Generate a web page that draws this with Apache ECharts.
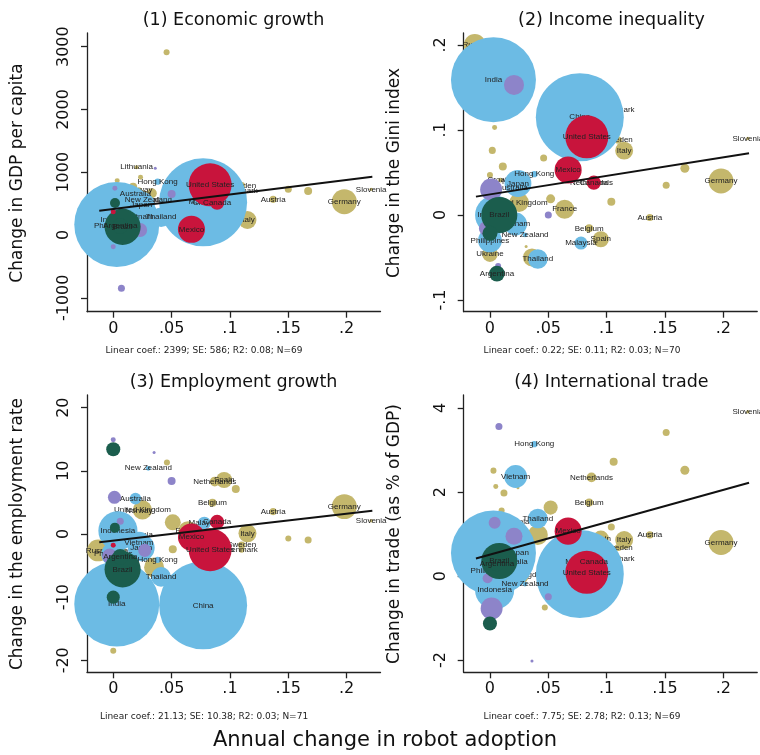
<!DOCTYPE html>
<html><head><meta charset="utf-8">
<script src="https://cdn.jsdelivr.net/npm/echarts@6/dist/echarts.min.js"></script>
<style>html,body{margin:0;padding:0;background:#fff}#c{width:760px;height:755px}</style>
</head><body><div id="c"></div>
<script>
// ---------- DATA ----------
const countries = ['Russia','India','Lithuania','China','Denmark','United States','Sweden','Finland','Italy','Mexico','Hong Kong','Netherlands','Canada','Croatia','Norway','Australia','Japan','Germany','Slovenia','Austria','Spain','Belgium','France','Malaysia','Thailand','Vietnam','Indonesia','Philippines','Ukraine','Argentina','Brazil','United Kingdom','New Zealand'];
// E = Europe, A = Asia-Pacific, N = North America, S = South America, P = other
const regions = ['E','A','E','A','E','N','E','E','E','N','A','E','N','E','E','A','A','E','E','E','E','E','E','A','A','A','A','A','E','S','S','E','A'];
const robotAdoption = [-0.013,0.003,0.020,0.077,0.110,0.083,0.110,0.073,0.115,0.067,0.038,0.087,0.089,0.009,0.022,0.019,0.024,0.198,0.221,0.137,0.095,0.085,0.064,0.078,0.041,0.022,0.004,0.000,0.000,0.006,0.008,0.025,0.030];
const bubbleWeight = [85,1275,3,1367,6,326,9,5.5,57,129,7,17,36,4,5,24,127,110,2,9,46,11,65,30,68,92,270,100,43,43,230,65,4];

const gdpChange = [380,167,1080,520,700,800,786,674,239,90,849,717,515,690,717,650,480,531,727,568,398,540,398,531,282,292,239,143,-53,143,130,558,558];
const giniChange = [0.200,0.159,0.170,0.115,0.124,0.092,0.088,0.0757,0.0757,0.053,0.048,0.038,0.038,0.041,0.039,0.0325,0.037,0.040,0.090,-0.003,-0.0286,-0.0157,0.0067,-0.033,-0.0518,-0.0106,0.0,-0.030,-0.046,-0.069,0.0,0.0149,-0.0235];
const employmentChange = [-2.6,-11.1,-0.2,-11.3,-2.5,-2.5,-1.74,-0.4,0.1,-0.5,-4.1,8.3,1.9,-2.6,3.7,5.6,-2.2,4.33,2.1,3.54,8.55,4.96,0.5,1.7,-6.8,-1.47,0.5,-3.2,-7.2,-3.6,-5.6,3.8,10.4];
const tradeChange = [0.56,0.55,1.29,0.05,0.42,0.09,0.68,0.5,0.857,1.07,3.14,2.35,0.34,-0.14,0.1,0.34,0.56,0.80,3.91,0.98,0.89,1.75,0.34,0.34,1.37,2.37,-0.33,0.13,1.12,0.30,0.36,0.02,-0.19];

// unlabeled countries per panel: [robot adoption, outcome, weight, region]
const otherGdp = [[0.0457,2910,6.4,'E'],[0.0234,919,4.4,'E'],[0.0034,866,4.4,'E'],[0.150,727,8.7,'E'],[0.167,700,11.3,'E'],[0.017,770,11.3,'E'],[0.033,664,17.7,'E'],
  [0.036,1062,1.6,'P'],[0.0014,743,4.4,'P'],[0.050,653,11.3,'P'],[0.023,80,35,'P'],[0,-186,4.4,'P'],[0.007,-850,8.7,'P'],
  [0,371,4.4,'N'],[0.0015,510,17.7,'S']];
const otherGini = [[0.004,0.103,4.4,'E'],[0.002,0.076,8.7,'E'],[0.011,0.057,11.3,'E'],[0.046,0.067,8.7,'E'],[0,0.047,6.4,'E'],[0.104,0.0157,11.3,'E'],[0.151,0.035,8.7,'E'],[0.167,0.055,14.3,'E'],[0.052,0.019,14.3,'E'],[0.031,-0.037,1.6,'E'],[0.036,-0.05,57,'E'],
  [0.0206,0.153,71,'P'],[0.001,0.03,85,'P'],[0.05,0,8.7,'P'],[0.007,-0.06,6.4,'P'],[-0.003,-0.016,40,'P'],
  [0,-0.0216,40,'S']];
const otherEmployment = [[0.046,11.3,6.4,'E'],[0.105,7.1,11.3,'E'],[0.051,1.85,45,'E'],[0.150,-0.7,6.4,'E'],[0.167,-0.95,8.7,'E'],[0.051,-2.4,11.3,'E'],[0.035,-5.3,71,'E'],[0,-18.5,6.4,'E'],
  [0,14.9,4.4,'P'],[0.035,12.9,1.6,'P'],[0.05,8.4,11.3,'P'],[0.001,5.8,30,'P'],[0.006,2.0,8.7,'P'],[0.027,-2.6,30,'P'],[-0.003,-3.5,40,'P'],
  [0,13.4,35,'S'],[0.0014,1.0,17.7,'S'],[0,-10,30,'S'],[0,-1.8,4.4,'N']];
const otherTrade = [[0.151,3.42,8.7,'E'],[0.106,2.72,11.3,'E'],[0.167,2.52,14.3,'E'],[0.003,2.51,6.4,'E'],[0.005,2.13,4.4,'E'],[0.012,1.98,8.7,'E'],[0.024,2.1,1.6,'E'],[0.052,1.63,35,'E'],[0.01,1.56,6.4,'E'],[0.104,1.17,8.7,'E'],[0.041,0.98,71,'E'],[0.047,-0.75,6.4,'E'],
  [0.0077,3.56,8.7,'P'],[0.004,1.27,25,'P'],[0.0206,0.95,51,'P'],[0.0014,-0.77,85,'P'],[0.05,-0.49,8.7,'P'],[0.036,-2.02,1.6,'P'],[-0.002,-0.05,17.7,'P'],
  [0,-1.13,35,'S'],[0.002,0.45,17.7,'S']];

// fitted lines (end points)
const fitX = [-0.012, 0.222];
const fitGdp = [388, 929];
const fitGini = [0.0216, 0.0725];
const fitEmployment = [-1.32, 3.69];
const fitTrade = [0.42, 2.22];

const xTicks = [0, 0.05, 0.1, 0.15, 0.2];
const gdpTicks = [-1000, 0, 1000, 2000, 3000];
const giniTicks = [-0.1, 0, 0.1, 0.2];
const employmentTicks = [-20, -10, 0, 10, 20];
const tradeTicks = [-2, 0, 2, 4];

const titles = ['(1) Economic growth','(2) Income inequality','(3) Employment growth','(4) International trade'];
const yNames = ['Change in GDP per capita','Change in the Gini index','Change in the employment rate','Change in trade (as % of GDP)'];
const notes = ['Linear coef.: 2399; SE: 586; R2: 0.08; N=69','Linear coef.: 0.22; SE: 0.11; R2: 0.03; N=70','Linear coef.: 21.13; SE: 10.38; R2: 0.03; N=71','Linear coef.: 7.75; SE: 2.78; R2: 0.13; N=69'];
const xName = 'Annual change in robot adoption';

// ---------- STYLE / LAYOUT ----------
const FONT = '"DejaVu Sans", sans-serif';
const regionOrder = ['E','A','P','S','N'];
const regionColor = {E:'#c4b76c', A:'#6cbbe4', P:'#8d84c9', S:'#1b5d4d', N:'#c8143c'};
const K = 2.38;
const panels = [
  {y: gdpChange, other: otherGdp, fit: fitGdp, ticks: gdpTicks, min: -1222, max: 3218, left: 87, top: 33, height: 278.7},
  {y: giniChange, other: otherGini, fit: fitGini, ticks: giniTicks, min: -0.1138, max: 0.2141, left: 463.7, top: 33, height: 278.7},
  {y: employmentChange, other: otherEmployment, fit: fitEmployment, ticks: employmentTicks, min: -21.9, max: 22.0, left: 87, top: 395, height: 277.3},
  {y: tradeChange, other: otherTrade, fit: fitTrade, ticks: tradeTicks, min: -2.29, max: 4.31, left: 463.7, top: 395, height: 277.3}
];
const XMIN = -0.0225, XMAX = 0.229, GW = 293.5;
const fmt = v => v === 0 ? '0' : String(v).replace(/^(-?)0\./, '$1.');

const grid = [], xAxis = [], yAxis = [], series = [], graphic = [];
panels.forEach((p, i) => {
  grid.push({left: p.left, top: p.top, width: GW, height: p.height, containLabel: false});
  const axisLine = {show: true, onZero: false, lineStyle: {color: '#222', width: 1.3}};
  xAxis.push({type: 'value', gridIndex: i, min: XMIN, max: XMAX, splitLine: {show: false}, axisLine,
    axisTick: {show: true, length: 6, customValues: xTicks, lineStyle: {color: '#222', width: 1.3}},
    axisLabel: {customValues: xTicks, formatter: fmt, fontSize: 16, fontFamily: FONT, color: '#111', margin: 9}});
  yAxis.push({type: 'value', gridIndex: i, min: p.min, max: p.max, splitLine: {show: false}, axisLine,
    axisTick: {show: true, length: 6, customValues: p.ticks, lineStyle: {color: '#222', width: 1.3}},
    axisLabel: {customValues: p.ticks, formatter: fmt, rotate: 90, fontSize: 16, fontFamily: FONT, color: '#111', margin: 15}});
  regionOrder.forEach((r, ri) => {
    const data = [];
    countries.forEach((c, ci) => {
      if (regions[ci] === r && p.y[ci] != null) data.push({name: c, value: [robotAdoption[ci], p.y[ci], bubbleWeight[ci]]});
    });
    p.other.forEach(o => { if (o[3] === r) data.push({name: '', value: [o[0], o[1], o[2]]}); });
    data.sort((a, b) => b.value[2] - a.value[2]);
    series.push({type: 'scatter', xAxisIndex: i, yAxisIndex: i, z: 2 + ri, clip: false, silent: true,
      emphasis: {disabled: true}, data,
      symbolSize: v => K * Math.sqrt(v[2]),
      itemStyle: {color: regionColor[r], opacity: 1},
      label: {show: true, position: 'inside', formatter: q => q.name, fontSize: 8, fontFamily: '"Liberation Sans", Arial, sans-serif', color: '#222'}});
  });
  series.push({type: 'line', xAxisIndex: i, yAxisIndex: i, z: 10, silent: true, symbol: 'none',
    data: [[fitX[0], p.fit[0]], [fitX[1], p.fit[1]]], lineStyle: {color: '#111', width: 2}});
});

const col = [233.5, 611.5], rowTitle = [20, 382], rowName = [173, 534], nameX = [18, 395], noteX = [204, 582], noteY = [351, 717];
titles.forEach((t, i) => graphic.push({type: 'text', x: col[i % 2], y: rowTitle[Math.floor(i / 2)],
  style: {text: t, font: '17.5px ' + FONT, fill: '#111', textAlign: 'center', textVerticalAlign: 'middle'}}));
yNames.forEach((t, i) => graphic.push({type: 'text', x: nameX[i % 2], y: rowName[Math.floor(i / 2)], rotation: Math.PI / 2,
  style: {text: t, font: '17px ' + FONT, fill: '#111', textAlign: 'center', textVerticalAlign: 'middle'}}));
notes.forEach((t, i) => graphic.push({type: 'text', x: noteX[i % 2], y: noteY[Math.floor(i / 2)],
  style: {text: t, font: '9px ' + FONT, fill: '#222', textAlign: 'center', textVerticalAlign: 'middle'}}));
graphic.push({type: 'text', x: 385, y: 741, style: {text: xName, font: '21px ' + FONT, fill: '#111', textAlign: 'center', textVerticalAlign: 'middle'}});

const chart = echarts.init(document.getElementById('c'), null, {renderer: 'canvas'});
chart.setOption({backgroundColor: '#fff', animation: false, grid, xAxis, yAxis, series, graphic});
</script></body></html>
